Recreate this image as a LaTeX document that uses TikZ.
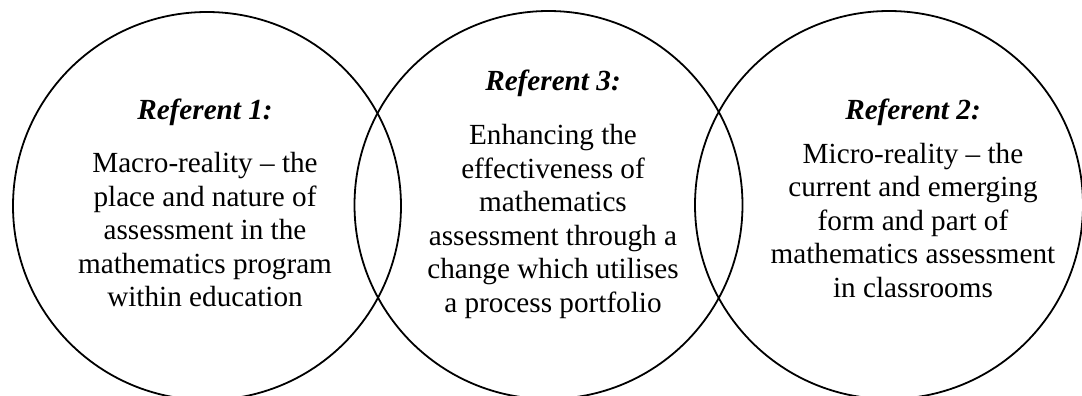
\documentclass[tikz,border=0pt]{standalone}
\usepackage{fontspec}
\setmainfont{Liberation Serif}
\begin{document}
\begin{tikzpicture}[x=1pt,y=1pt,
  ring/.style={circle,draw=black,line width=1.8pt,minimum size=388pt,inner sep=0pt},
  title/.style={font=\fontsize{29.2}{33.5}\selectfont\bfseries\itshape,anchor=base,inner sep=0pt},
  body/.style={font=\fontsize{29.2}{33.5}\selectfont,align=center,anchor=base,inner sep=0pt}]
\useasboundingbox (0,0) rectangle (1082,-396);
\node[ring] (c1) at (207,-206) {};
\node[ring] (c3) at (548.5,-205) {};
\node[ring] (c2) at (889,-205) {};
\node[title] (t1) at (205,-119) {Referent 1:};
\node[title] (t3) at (553,-91) {Referent 3:};
\node[title] (t2) at (913,-119) {Referent 2:};
\node[body] (b1) at (205,-306.5) {Macro-reality -- the\\place and nature of\\assessment in the\\mathematics program\\within education};
\node[body] (b3) at (553,-312) {Enhancing the\\effectiveness of\\mathematics\\assessment through a\\change which utilises\\a process portfolio};
\node[body] (b2) at (913,-297) {Micro-reality -- the\\current and emerging\\form and part of\\mathematics assessment\\in classrooms};
\end{tikzpicture}
\end{document}
